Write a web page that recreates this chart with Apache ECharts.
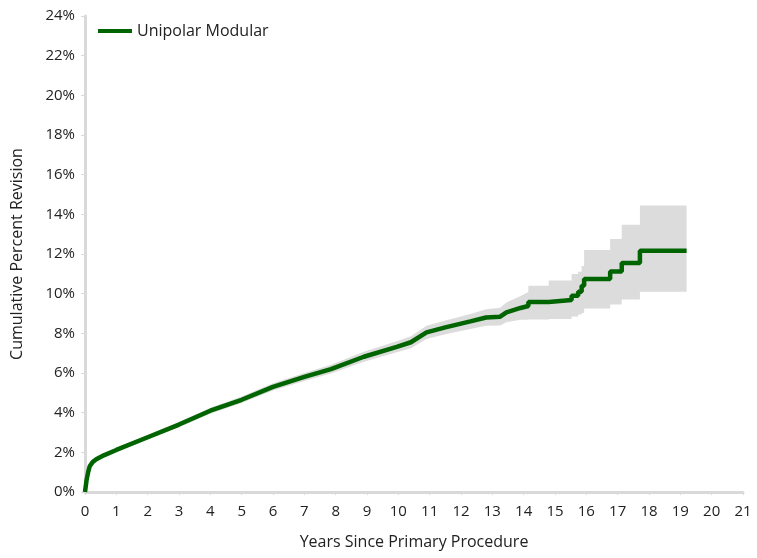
<!DOCTYPE html>
<html>
<head>
<meta charset="utf-8">
<script src="https://cdn.jsdelivr.net/npm/echarts@6/dist/echarts.min.js"></script>
<style>
html,body{margin:0;padding:0;background:#fff;}
#chart{width:757px;height:558px;}
</style>
</head>
<body>
<div id="chart"></div>
<script>
const seriesName = 'Unipolar Modular';
const years = [0,0.05,0.1,0.15,0.25,0.36,0.6,1,2,3,4,5,6,7,7.85,8.9,9.95,10.4,10.9,11.5,12.3,12.8,13.25,13.45,13.9,14.15,14.15,14.8,14.8,15.53,15.53,15.74,15.74,15.85,15.85,15.93,15.93,16.76,16.76,17.13,17.13,17.71,17.71,19.2];
const revision = [0,0.6,1.0,1.3,1.52,1.65,1.85,2.12,2.76,3.4,4.1,4.65,5.3,5.8,6.2,6.82,7.32,7.55,8.05,8.3,8.6,8.8,8.84,9.06,9.28,9.38,9.58,9.58,9.68,9.68,9.9,9.9,10.1,10.1,10.4,10.4,10.74,10.74,11.12,11.12,11.55,11.55,12.17,12.17];
const lowerCI = [0,0.55,0.92,1.2,1.42,1.55,1.75,2.02,2.64,3.27,3.95,4.49,5.12,5.6,5.98,6.57,7.04,7.25,7.72,7.95,8.22,8.38,8.39,8.56,8.68,8.68,8.7,8.7,8.72,8.72,8.85,8.85,8.95,8.95,9.02,9.02,9.25,9.25,9.45,9.45,9.7,9.7,10.1,10.1];
const upperCI = [0,0.65,1.08,1.4,1.62,1.75,1.95,2.22,2.88,3.53,4.25,4.81,5.48,6.0,6.42,7.07,7.6,7.85,8.38,8.65,8.98,9.22,9.29,9.56,9.88,10.08,10.4,10.4,10.66,10.66,10.99,10.99,11.1,11.1,11.4,11.4,12.2,12.2,12.76,12.76,13.47,13.47,14.44,14.44];
const xTicks = {min: 0, max: 21, interval: 1};
const yTicks = {min: 0, max: 24, interval: 2};

const lineData = years.map((x, i) => [x, revision[i]]);
const bandData = years.map((x, i) => [x, lowerCI[i], upperCI[i]]);

const font = 'Open Sans';
const chart = echarts.init(document.getElementById('chart'), null, {renderer: 'canvas'});
chart.setOption({
  animation: false,
  backgroundColor: '#fff',
  textStyle: {fontFamily: font},
  grid: {left: 85, right: 14, top: 16, bottom: 66, containLabel: false},
  legend: {
    data: [seriesName],
    left: 93, top: 18,
    icon: 'rect', itemWidth: 34, itemHeight: 4, itemGap: 10,
    textStyle: {fontFamily: font, fontSize: 16, color: '#222'}
  },
  xAxis: {
    type: 'value', min: xTicks.min, max: xTicks.max, interval: xTicks.interval,
    name: 'Years Since Primary Procedure', nameLocation: 'middle', nameGap: 42,
    nameTextStyle: {fontFamily: font, fontSize: 16, color: '#222'},
    axisLine: {show: true, onZero: false, lineStyle: {color: '#d9d9d9', width: 3}},
    axisTick: {show: true, length: 3, lineStyle: {color: '#d9d9d9', width: 1}},
    axisLabel: {fontFamily: font, fontSize: 15, color: '#222', margin: 12},
    splitLine: {show: false}
  },
  yAxis: {
    type: 'value', min: yTicks.min, max: yTicks.max, interval: yTicks.interval,
    name: 'Cumulative Percent Revision', nameLocation: 'middle', nameGap: 60,
    nameTextStyle: {fontFamily: font, fontSize: 16, color: '#222'},
    axisLine: {show: true, lineStyle: {color: '#d9d9d9', width: 3}},
    axisTick: {show: true, length: 4, lineStyle: {color: '#d9d9d9', width: 1}},
    axisLabel: {fontFamily: font, fontSize: 15, color: '#222', margin: 10, formatter: '{value}%'},
    splitLine: {show: false}
  },
  series: [
    {
      name: 'band', type: 'custom', data: bandData, silent: true, z: 1,
      encode: {x: 0, y: [1, 2]},
      renderItem: function (params, api) {
        if (params.dataIndex !== 0) return null;
        const pts = [];
        for (let i = 0; i < years.length; i++) pts.push(api.coord([years[i], upperCI[i]]));
        for (let i = years.length - 1; i >= 0; i--) pts.push(api.coord([years[i], lowerCI[i]]));
        return {type: 'polygon', shape: {points: pts}, style: {fill: '#dcdcdc', stroke: null}};
      }
    },
    {
      name: seriesName, type: 'line', data: lineData,
      symbol: 'none', lineStyle: {color: '#006400', width: 4.5}, itemStyle: {color: '#006400'}, z: 3
    }
  ]
});
</script>
</body>
</html>
